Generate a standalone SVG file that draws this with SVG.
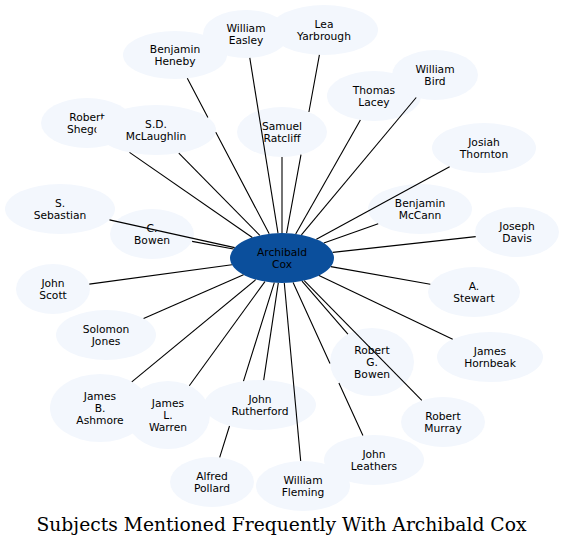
<svg xmlns="http://www.w3.org/2000/svg" width="564" height="547" viewBox="0 0 564 547">
<style>
.n ellipse{fill:#f3f7fd;stroke:none}
.c ellipse{fill:#0b4f9c;stroke:none}
text{font-family:"DejaVu Sans","Noto Sans",sans-serif;font-size:10.7px;fill:#000;text-anchor:middle}
.e path{fill:none;stroke:#000;stroke-width:1.1}
.title{font-family:"DejaVu Serif","Liberation Serif",serif;font-size:18.5px}
</style>
<rect width="564" height="547" fill="#fff"/>
<g id="nodes">
<g id="n-heneby" class="n"><ellipse cx="175" cy="55" rx="52" ry="24"/><text x="175" y="53">Benjamin</text><text x="175" y="65">Heneby</text></g>
<g id="n-easley" class="n"><ellipse cx="246" cy="34" rx="43" ry="24"/><text x="246" y="32">William</text><text x="246" y="44">Easley</text></g>
<g id="n-yarbrough" class="n"><ellipse cx="324" cy="30" rx="54" ry="25"/><text x="324" y="28">Lea</text><text x="324" y="40">Yarbrough</text></g>
<g id="n-lacey" class="n"><ellipse cx="374" cy="96" rx="47" ry="25"/><text x="374" y="94">Thomas</text><text x="374" y="106">Lacey</text></g>
<g id="n-bird" class="n"><ellipse cx="435" cy="75" rx="43" ry="25"/><text x="435" y="73">William</text><text x="435" y="85">Bird</text></g>
<g id="n-thornton" class="n"><ellipse cx="484" cy="148" rx="52" ry="25"/><text x="484" y="146">Josiah</text><text x="484" y="158">Thornton</text></g>
<g id="n-ratcliff" class="n"><ellipse cx="282" cy="132" rx="45" ry="25"/><text x="282" y="130">Samuel</text><text x="282" y="142">Ratcliff</text></g>
<g id="n-shegog" class="n"><ellipse cx="87" cy="123" rx="46" ry="25"/><text x="87" y="121">Robert</text><text x="87" y="133">Shegog</text></g>
<g id="n-mclaughlin" class="n"><ellipse cx="156" cy="130" rx="60" ry="25"/><text x="156" y="128">S.D.</text><text x="156" y="140">McLaughlin</text></g>
<g id="n-sebastian" class="n"><ellipse cx="60" cy="209" rx="55" ry="25"/><text x="60" y="207">S.</text><text x="60" y="219">Sebastian</text></g>
<g id="n-cbowen" class="n"><ellipse cx="152" cy="234" rx="42" ry="25"/><text x="152" y="232">C.</text><text x="152" y="244">Bowen</text></g>
<g id="n-scott" class="n"><ellipse cx="53" cy="289" rx="37" ry="25"/><text x="53" y="287">John</text><text x="53" y="299">Scott</text></g>
<g id="n-jones" class="n"><ellipse cx="106" cy="335" rx="50" ry="25"/><text x="106" y="333">Solomon</text><text x="106" y="345">Jones</text></g>
<g id="n-ashmore" class="n"><ellipse cx="100" cy="408" rx="50" ry="34"/><text x="100" y="400">James</text><text x="100" y="412">B.</text><text x="100" y="424">Ashmore</text></g>
<g id="n-warren" class="n"><ellipse cx="168" cy="415" rx="42" ry="34"/><text x="168" y="407">James</text><text x="168" y="419">L.</text><text x="168" y="431">Warren</text></g>
<g id="n-rutherford" class="n"><ellipse cx="260" cy="405" rx="56" ry="25"/><text x="260" y="403">John</text><text x="260" y="415">Rutherford</text></g>
<g id="n-pollard" class="n"><ellipse cx="212" cy="482" rx="42" ry="25"/><text x="212" y="480">Alfred</text><text x="212" y="492">Pollard</text></g>
<g id="n-fleming" class="n"><ellipse cx="303" cy="486" rx="47" ry="25"/><text x="303" y="484">William</text><text x="303" y="496">Fleming</text></g>
<g id="n-leathers" class="n"><ellipse cx="374" cy="460" rx="50" ry="25"/><text x="374" y="458">John</text><text x="374" y="470">Leathers</text></g>
<g id="n-murray" class="n"><ellipse cx="443" cy="422" rx="42" ry="25"/><text x="443" y="420">Robert</text><text x="443" y="432">Murray</text></g>
<g id="n-rgbowen" class="n"><ellipse cx="372" cy="362" rx="42" ry="34"/><text x="372" y="354">Robert</text><text x="372" y="366">G.</text><text x="372" y="378">Bowen</text></g>
<g id="n-hornbeak" class="n"><ellipse cx="490" cy="357" rx="53" ry="25"/><text x="490" y="355">James</text><text x="490" y="367">Hornbeak</text></g>
<g id="n-stewart" class="n"><ellipse cx="474" cy="292" rx="46" ry="25"/><text x="474" y="290">A.</text><text x="474" y="302">Stewart</text></g>
<g id="n-davis" class="n"><ellipse cx="517" cy="232" rx="42" ry="25"/><text x="517" y="230">Joseph</text><text x="517" y="242">Davis</text></g>
<g id="n-mccann" class="n"><ellipse cx="420" cy="209" rx="52" ry="25"/><text x="420" y="207">Benjamin</text><text x="420" y="219">McCann</text></g>
<g id="n-cox" class="c"><ellipse cx="282" cy="258" rx="52" ry="25"/><text x="282" y="256">Archibald</text><text x="282" y="268">Cox</text></g>
</g>
<g id="edges" class="e">
<path d="M187.3,78.3 L207.9,117.5 M215.8,132.3 L269.2,233.8"/>
<path d="M249.8,57.9 L278,233.1"/>
<path d="M319.4,54.9 L308.9,112 M301,154.7 L286.6,233.1"/>
<path d="M360.4,119.9 L295.7,233.9"/>
<path d="M416.2,97.5 L301.4,234.8"/>
<path d="M449.6,166.7 L316.4,239.3"/>
<path d="M282,157 L282,233"/>
<path d="M129.5,152.4 L252.3,237.5"/>
<path d="M178.8,153.1 L259.8,235.4"/>
<path d="M109.5,219.9 L234.7,247.6"/>
<path d="M192.1,241.4 L233.5,249"/>
<path d="M89.3,284.1 L231.9,264.8"/>
<path d="M143.6,318.5 L243.5,274.8"/>
<path d="M131.8,381.8 L255.8,279.6"/>
<path d="M189.3,385.7 L264.9,281.6"/>
<path d="M263.7,380.1 L278.3,282.9"/>
<path d="M219.7,457.4 L229.5,426 M243.5,381.1 L274.3,282.7"/>
<path d="M300.7,461 L284.3,283"/>
<path d="M362.9,435.6 L338.9,382.9 M330,363.5 L293.1,282.4"/>
<path d="M421.8,400.4 L304.2,280.6"/>
<path d="M347.9,334.2 L302,281.1"/>
<path d="M452.7,339.2 L319,275.6"/>
<path d="M430.3,284.3 L330.8,266.6"/>
<path d="M475.7,236.6 L332.7,252.4"/>
<path d="M378.2,223.8 L323.8,243.1"/>
</g>
<text class="title" x="281.5" y="531" textLength="490" lengthAdjust="spacingAndGlyphs">Subjects Mentioned Frequently With Archibald Cox</text>
</svg>
